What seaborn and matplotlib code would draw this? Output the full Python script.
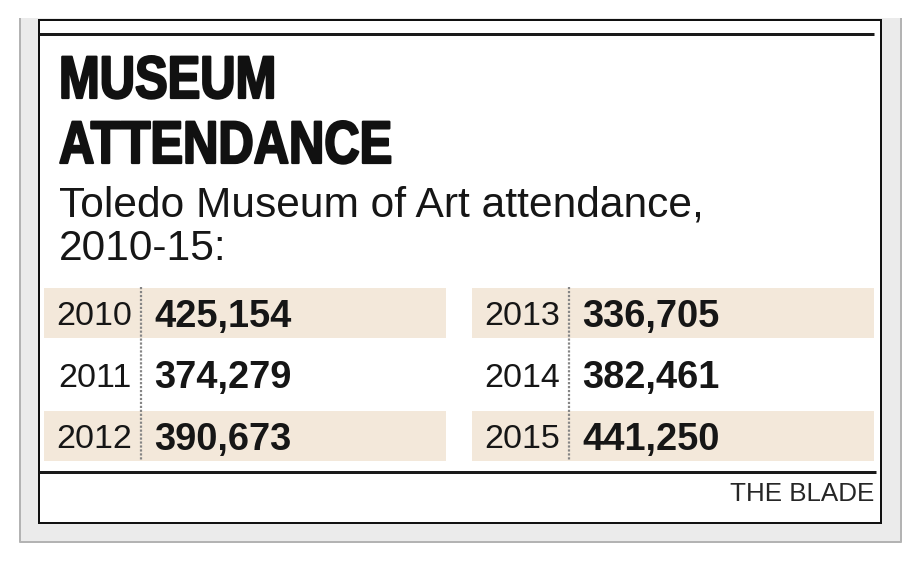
import numpy as np
import matplotlib.pyplot as plt
import seaborn as sns
from matplotlib.patches import Rectangle
from matplotlib.patheffects import AbstractPathEffect
from matplotlib.transforms import Affine2D

# --- data ---
years = ['2010', '2011', '2012', '2013', '2014', '2015']
attendance = [425154, 374279, 390673, 336705, 382461, 441250]
title_lines = ['MUSEUM', 'ATTENDANCE']
subtitle_lines = ['Toledo Museum of Art attendance,', '2010-15:']
credit = 'THE BLADE'

sns.set_theme(style='white')
plt.rcParams['font.family'] = ['Liberation Sans', 'DejaVu Sans']

W, H = 918, 562
PT = 0.72  # points per pixel at dpi 100
INK = '#161616'
BEIGE = '#f3e8da'


class Squeeze(AbstractPathEffect):
    # narrow (and thicken) the glyphs around x0 in display px -- no condensed black font installed
    def __init__(self, sx, x0, stroke=0.0):
        super().__init__()
        self.sx, self.x0, self.stroke = sx, x0, stroke

    def draw_path(self, renderer, gc, tpath, affine, rgbFace=None):
        squeeze = Affine2D().translate(-self.x0, 0).scale(self.sx, 1).translate(self.x0, 0)
        if self.stroke > 0:
            gc0 = renderer.new_gc()
            gc0.copy_properties(gc)
            gc0.set_linewidth(self.stroke)
            gc0.set_foreground(rgbFace)
            gc0.set_joinstyle('round')
            renderer.draw_path(gc0, tpath, affine + squeeze, rgbFace)
            gc0.restore()
        renderer.draw_path(gc, tpath, affine + squeeze, rgbFace)


fig = plt.figure(figsize=(W / 100, H / 100), dpi=100)
fig.patch.set_facecolor('white')

# background axes in pixel units for frame, title and rules
bg = fig.add_axes([0, 0, 1, 1])
bg.set_xlim(0, W)
bg.set_ylim(H, 0)
bg.axis('off')

# gray outer frame
bg.add_patch(Rectangle((19, 18), 883, 525, facecolor='#ebebeb', edgecolor='none'))
bg.plot([20, 20, 901, 901], [18, 542, 542, 18], color='#b3b3b3', lw=2 * PT, solid_capstyle='butt')
# white card with black border
bg.add_patch(Rectangle((39, 20), 842, 503, facecolor='white', edgecolor='#111111', lw=2 * PT))
bg.plot([39, 874], [34, 34], color='#1a1a1a', lw=3 * PT, solid_capstyle='butt')
bg.plot([39, 876], [472, 472], color='#1a1a1a', lw=3 * PT, solid_capstyle='butt')

# title
for i, line in enumerate(title_lines):
    bg.text(59, 98 + 65 * i, line, fontsize=60 * PT, fontweight='bold', color='#111111',
            va='baseline', ha='left', path_effects=[Squeeze(0.815, 59, stroke=1.6)])
# subtitle
for i, line in enumerate(subtitle_lines):
    bg.text(59, 217 + 43 * i, line, fontsize=42.5 * PT, color=INK, va='baseline', ha='left')
# credit
bg.text(874, 501, credit, fontsize=26 * PT, color='#262626', va='baseline', ha='right')

# --- table axes: x in pixels from the left of the band area, y in row index ---
tab = fig.add_axes([44 / W, 1 - 466.75 / H, 830 / W, (466.75 - 282.25) / H])
tab.set_xlim(0, 830)
tab.set_ylim(2.5, -0.5)
tab.axis('off')

n_rows = 3
block_left = [0, 428]
block_w = 402
rows = np.arange(len(years)) % n_rows
cols = np.arange(len(years)) // n_rows

for c in range(2):
    stripe = [r for r in range(n_rows) if r % 2 == 0]
    tab.barh(stripe, block_w, left=block_left[c], height=0.81, color=BEIGE, linewidth=0)
    tab.vlines(block_left[c] + 97, -0.42, 2.4, color='#858585', lw=2.2 * PT,
               linestyles=(0, (1.0, 0.8)))

for yr, val, r, c in zip(years, attendance, rows, cols):
    x0 = block_left[c]
    tab.text(x0 + 88, r + 0.2, yr, fontsize=34 * PT, color=INK, ha='right', va='baseline')
    tab.text(x0 + 110, r + 0.22, f'{val:,}', fontsize=38 * PT, fontweight='bold',
             color=INK, ha='left', va='baseline')

fig.savefig('out.png', dpi=100, facecolor='white')
